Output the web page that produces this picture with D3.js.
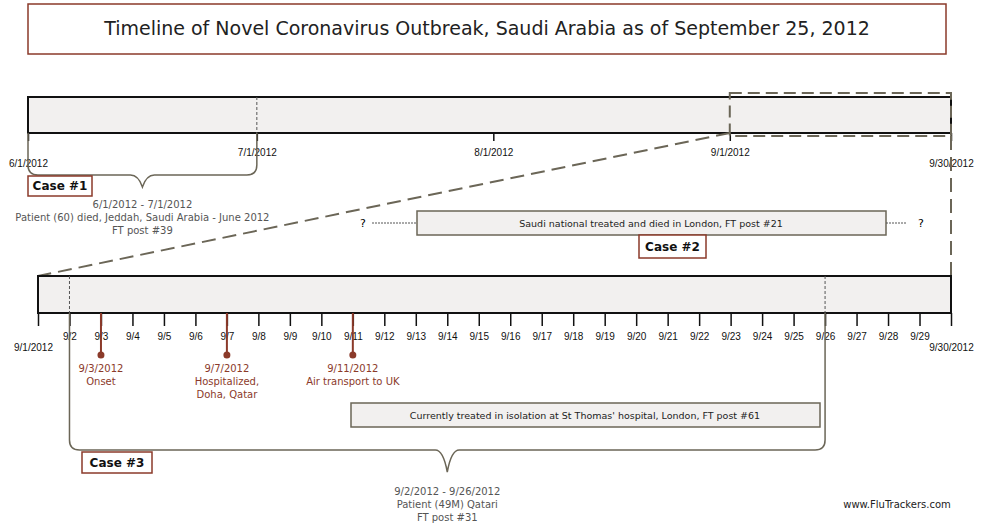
<!DOCTYPE html>
<html><head><meta charset="utf-8">
<script src="https://cdn.jsdelivr.net/npm/d3@7"></script>
<style>body{margin:0;background:#fff}svg{font-family:"DejaVu Sans",sans-serif}</style>
</head><body><svg width="982" height="531"></svg>
<script>
const title = "Timeline of Novel Coronavirus Outbreak, Saudi Arabia as of September 25, 2012";
const overviewTicks = ["2012-06-01", "2012-07-01", "2012-08-01", "2012-09-01", "2012-09-30"];
const overviewTickLabels = ["6/1/2012", "7/1/2012", "8/1/2012", "9/1/2012", "9/30/2012"];
const detailDays = d3.range(1, 31);
const events = [
  { date: "2012-09-03", lines: ["9/3/2012", "Onset"] },
  { date: "2012-09-07", lines: ["9/7/2012", "Hospitalized,", "Doha, Qatar"] },
  { date: "2012-09-11", lines: ["9/11/2012", "Air transport to UK"] }
];
const case1 = { start: "2012-06-01", end: "2012-07-01", label: "Case #1",
  lines: ["6/1/2012 - 7/1/2012", "Patient (60) died, Jeddah, Saudi Arabia - June 2012", "FT post #39"] };
const case3 = { start: "2012-09-02", end: "2012-09-26", label: "Case #3",
  lines: ["9/2/2012 - 9/26/2012", "Patient (49M) Qatari", "FT post #31"] };
const case2Text = "Saudi national treated and died in London, FT post #21";
const case3Text = "Currently treated in isolation at St Thomas' hospital, London, FT post #61";

const brown = "#8b3a2a", grey = "#555", olive = "#6b6657";
const P = d3.timeParse("%Y-%m-%d");
const svg = d3.select("svg");

// title
svg.append("rect").attr("x", 28).attr("y", 4).attr("width", 918).attr("height", 50)
  .attr("fill", "#fff").attr("stroke", brown).attr("stroke-width", 1.5);
svg.append("text").attr("x", 487).attr("y", 35).attr("text-anchor", "middle")
  .attr("font-size", 19).attr("fill", "#222").text(title);

// overview timeline
const x1 = d3.scaleTime().domain([P("2012-06-01"), P("2012-09-30")]).range([28, 951]);
const x2 = d3.scaleTime().domain([P("2012-09-01"), P("2012-09-30")]).range([38, 951]);

function bar(x, y0, y1) {
  svg.append("rect").attr("x", x.range()[0]).attr("y", y0)
    .attr("width", x.range()[1] - x.range()[0]).attr("height", y1 - y0)
    .attr("fill", "#f2f0ef").attr("stroke", "#111").attr("stroke-width", 2);
}
bar(x1, 97, 133);
svg.append("line").attr("x1", x1(P("2012-07-01"))).attr("x2", x1(P("2012-07-01")))
  .attr("y1", 97).attr("y2", 133).attr("stroke", grey).attr("stroke-dasharray", "3,2");

const ax1 = svg.append("g").attr("transform", "translate(0,133)")
  .call(d3.axisBottom(x1).tickValues(overviewTicks.map(P)).tickSize(8).tickFormat((d, i) => overviewTickLabels[i]));
ax1.select(".domain").remove();
ax1.selectAll("line").attr("stroke", "#111").attr("stroke-width", 1.5);
ax1.selectAll("text").attr("font-size", 10).attr("fill", "#111")
  .attr("y", (d, i) => (i === 0 || i === overviewTicks.length - 1) ? 27 : 16);

// zoom indication
const zx0 = x1(P("2012-09-01")), zx1 = x1(P("2012-09-30"));
svg.append("rect").attr("x", zx0).attr("y", 93).attr("width", zx1 - zx0).attr("height", 43)
  .attr("fill", "none").attr("stroke", olive).attr("stroke-width", 2).attr("stroke-dasharray", "12,6");
svg.append("line").attr("x1", zx0).attr("y1", 133).attr("x2", x2.range()[0]).attr("y2", 276)
  .attr("stroke", olive).attr("stroke-width", 2).attr("stroke-dasharray", "14,7");
svg.append("line").attr("x1", zx1).attr("y1", 136).attr("x2", zx1).attr("y2", 276)
  .attr("stroke", olive).attr("stroke-width", 2).attr("stroke-dasharray", "14,7");

// brace helper
function brace(xa, xb, yTop, yBot, depth) {
  const xm = (xa + xb) / 2, r = 10;
  const p = `M${xa},${yTop} L${xa},${yBot - r} Q${xa},${yBot} ${xa + r},${yBot}
    L${xm - 12},${yBot} Q${xm - 4},${yBot} ${xm},${yBot + depth}
    Q${xm + 4},${yBot} ${xm + 12},${yBot} L${xb - r},${yBot} Q${xb},${yBot} ${xb},${yBot - r} L${xb},${yTop}`;
  svg.append("path").attr("d", p).attr("fill", "none").attr("stroke", olive).attr("stroke-width", 1.5);
  return xm;
}
function caseBox(x, y, w, h, label) {
  svg.append("rect").attr("x", x).attr("y", y).attr("width", w).attr("height", h)
    .attr("fill", "#fff").attr("stroke", brown).attr("stroke-width", 1.5);
  svg.append("text").attr("x", x + w / 2).attr("y", y + h / 2 + 4).attr("text-anchor", "middle")
    .attr("font-size", 12).attr("font-weight", "bold").attr("fill", "#111").text(label);
}
function multiline(x, y, lines, color, dy) {
  svg.append("text").attr("text-anchor", "middle").attr("font-size", 10).attr("fill", color)
    .selectAll("tspan").data(lines).join("tspan")
    .attr("x", x).attr("y", (d, i) => y + i * dy).text(d => d);
}

// case 1
const c1m = brace(x1(P(case1.start)), x1(P(case1.end)), 133, 175, 12);
caseBox(28, 176, 64, 20, case1.label);
multiline(c1m, 208, case1.lines, "#555", 13);

// case 2
svg.append("rect").attr("x", 417).attr("y", 211).attr("width", 469).attr("height", 24)
  .attr("fill", "#f2f0ef").attr("stroke", olive).attr("stroke-width", 1.5);
svg.append("text").attr("x", 651).attr("y", 227).attr("text-anchor", "middle")
  .attr("font-size", 9.5).attr("fill", "#222").text(case2Text);
svg.append("line").attr("x1", 372).attr("x2", 417).attr("y1", 223).attr("y2", 223)
  .attr("stroke", grey).attr("stroke-dasharray", "2,1");
svg.append("line").attr("x1", 886).attr("x2", 907).attr("y1", 223).attr("y2", 223)
  .attr("stroke", grey).attr("stroke-dasharray", "2,1");
svg.append("text").attr("x", 363).attr("y", 227).attr("text-anchor", "middle").attr("font-size", 11).text("?");
svg.append("text").attr("x", 921).attr("y", 227).attr("text-anchor", "middle").attr("font-size", 11).text("?");
caseBox(639, 235, 67, 23, "Case #2");

// detail timeline
bar(x2, 276, 313);
[case3.start, case3.end].forEach(d => {
  svg.append("line").attr("x1", x2(P(d))).attr("x2", x2(P(d))).attr("y1", 276).attr("y2", 313)
    .attr("stroke", grey).attr("stroke-dasharray", "3,2");
});
const days = detailDays.map(d => new Date(2012, 8, d));
const ax2 = svg.append("g").attr("transform", "translate(0,313)")
  .call(d3.axisBottom(x2).tickValues(days).tickSize(13)
    .tickFormat((d, i) => (i === 0 || i === days.length - 1) ? d3.timeFormat("%-m/%-d/%Y")(d) : d3.timeFormat("%-m/%-d")(d)));
ax2.select(".domain").remove();
ax2.selectAll("line").attr("stroke", "#111").attr("stroke-width", 1.5);
ax2.selectAll("text").attr("font-size", 10).attr("fill", "#111")
  .attr("y", (d, i) => (i === 0 || i === days.length - 1) ? 31 : 20);
ax2.selectAll(".tick").filter((d, i) => i === 0).select("text").attr("dx", -5);

// case 3 brace
const c3m = brace(x2(P(case3.start)), x2(P(case3.end)), 313, 450, 22);
caseBox(82, 452, 70, 21, case3.label);
multiline(c3m, 495, case3.lines, "#555", 13);

// events
const ev = svg.append("g").selectAll("g").data(events).join("g");
ev.append("line").attr("x1", d => x2(P(d.date))).attr("x2", d => x2(P(d.date)))
  .attr("y1", 313).attr("y2", 354).attr("stroke", brown).attr("stroke-width", 2);
ev.append("circle").attr("cx", d => x2(P(d.date))).attr("cy", 355).attr("r", 3.5).attr("fill", brown);
ev.each(function (d) { multiline(x2(P(d.date)), 372, d.lines, brown, 13); });

svg.append("rect").attr("x", 351).attr("y", 403).attr("width", 469).attr("height", 24)
  .attr("fill", "#f2f0ef").attr("stroke", olive).attr("stroke-width", 1.5);
svg.append("text").attr("x", 585).attr("y", 419).attr("text-anchor", "middle")
  .attr("font-size", 9.5).attr("fill", "#222").text(case3Text);

svg.append("text").attr("x", 897).attr("y", 508).attr("text-anchor", "middle")
  .attr("font-size", 10).attr("fill", "#222").text("www.FluTrackers.com");
</script></body></html>
